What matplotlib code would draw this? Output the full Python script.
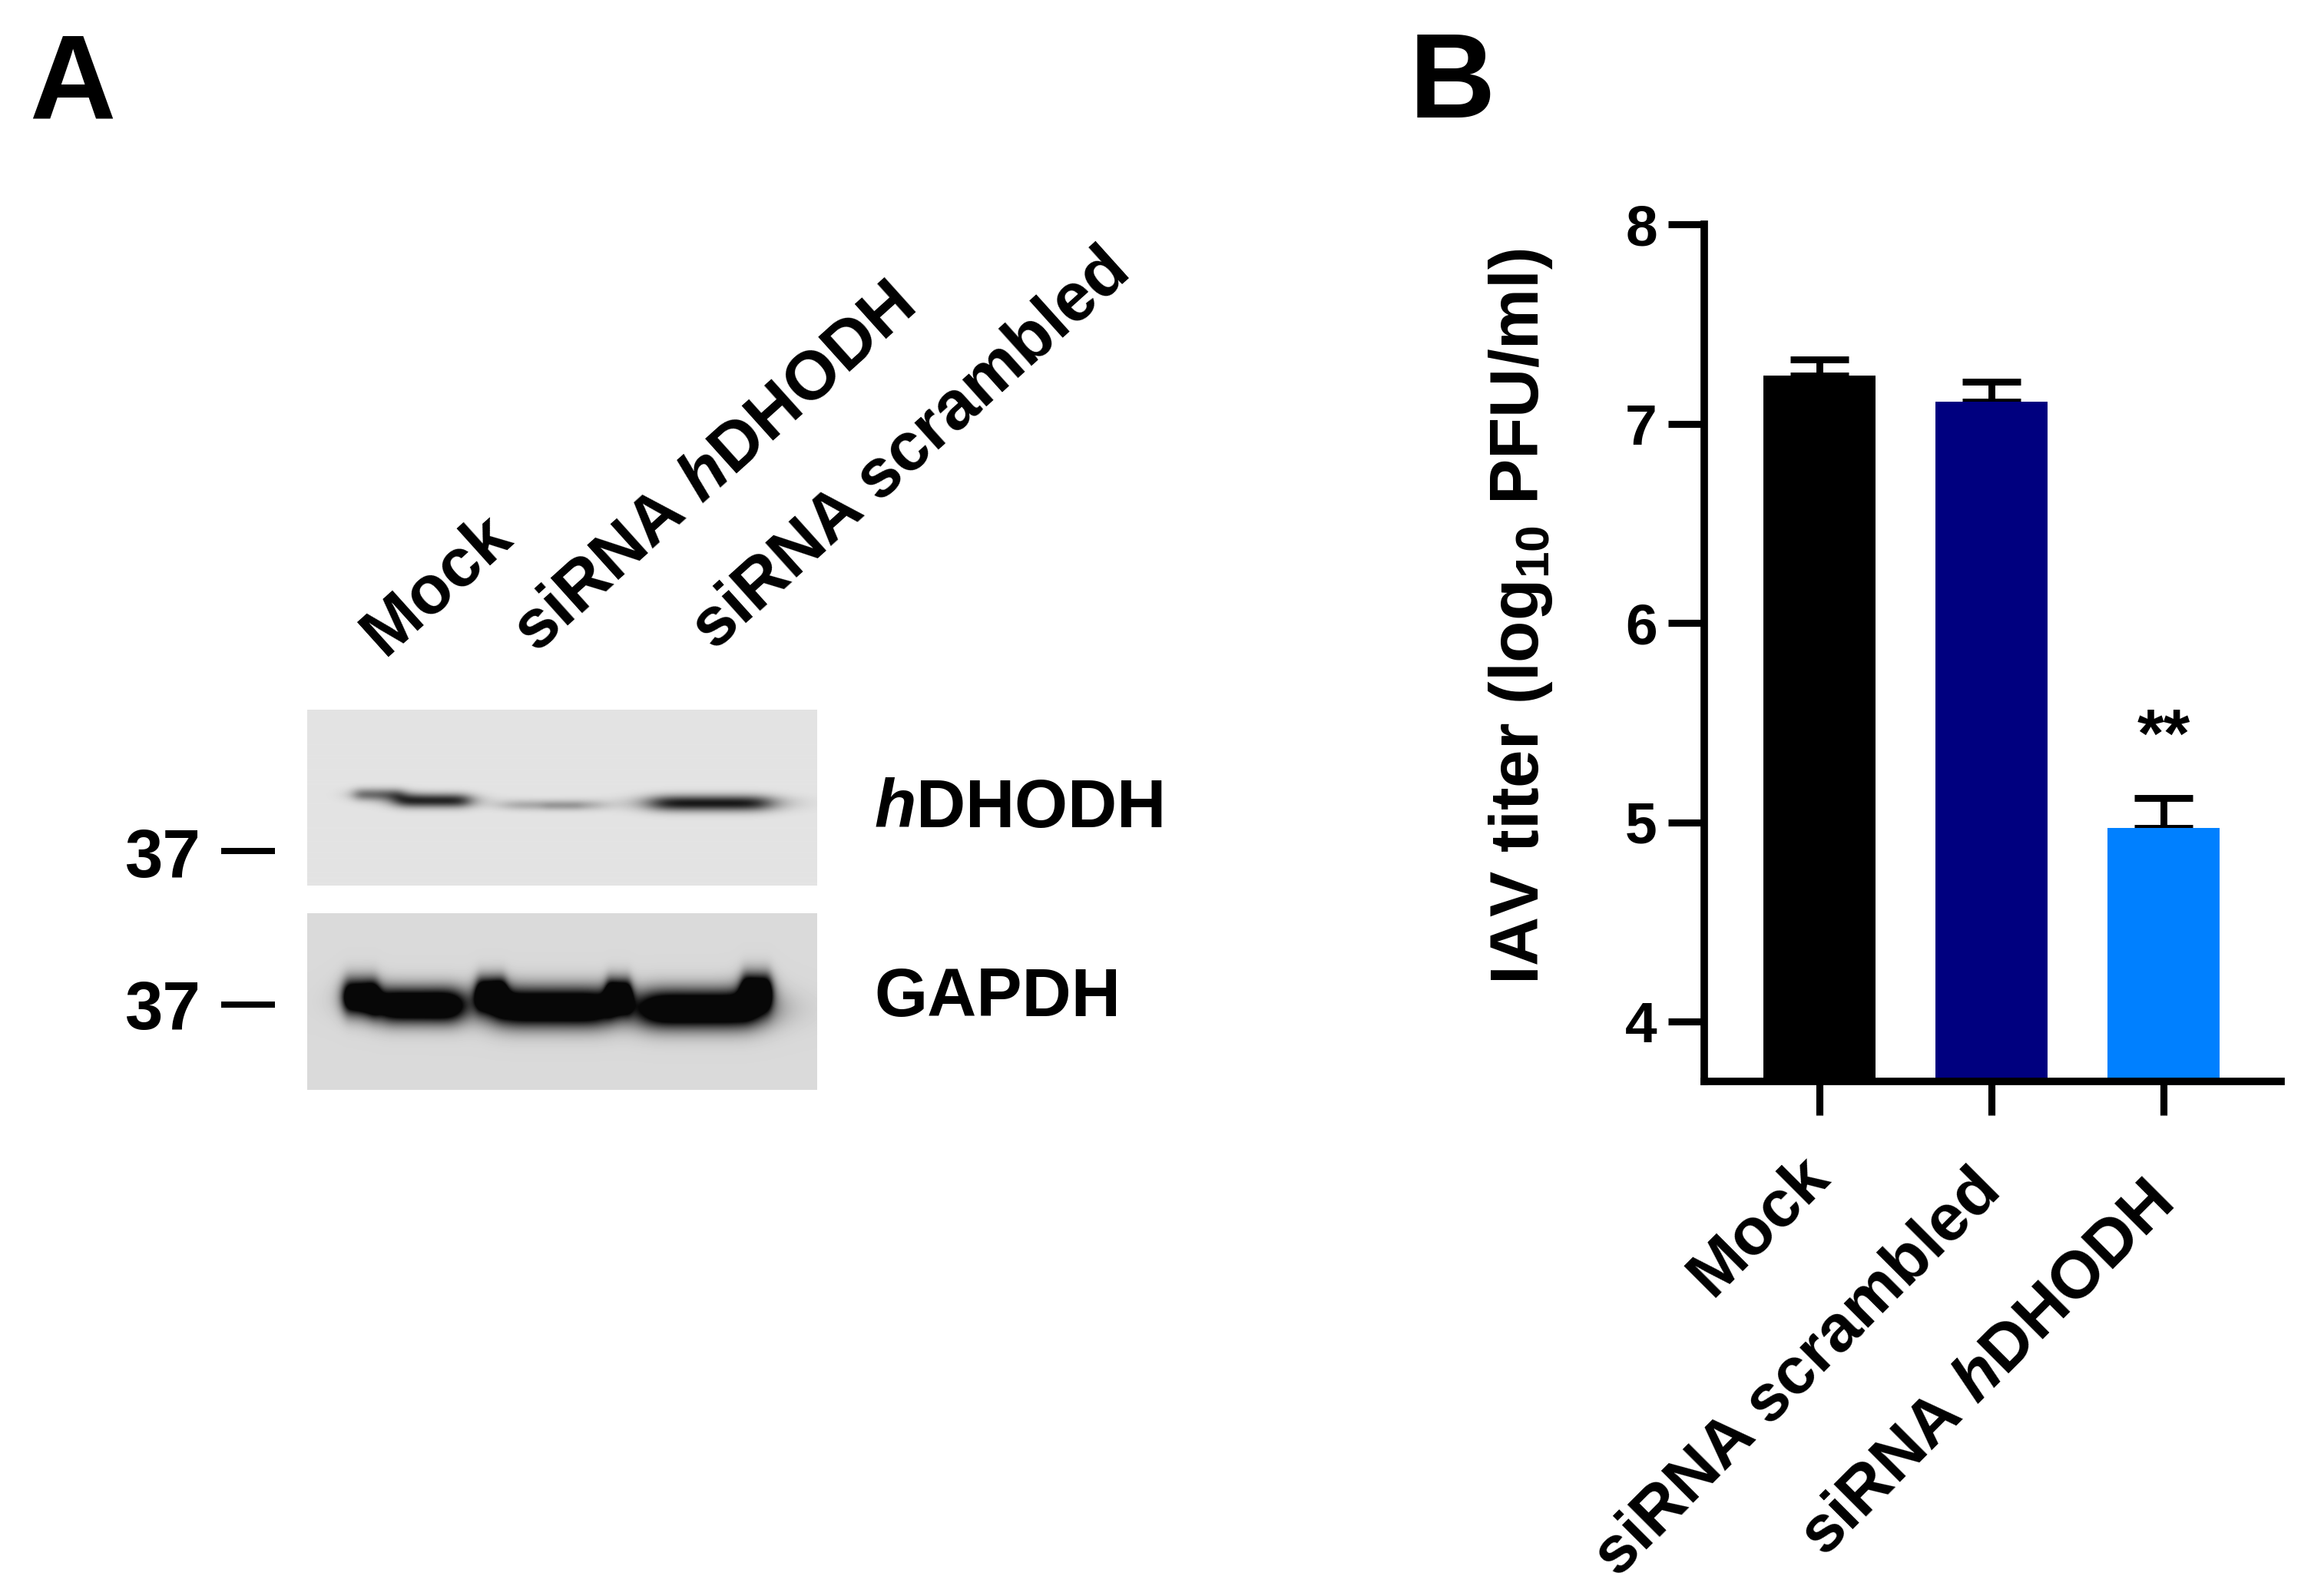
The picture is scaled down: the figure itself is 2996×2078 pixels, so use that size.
import numpy as np
import matplotlib
matplotlib.use('Agg')
from matplotlib import pyplot as plt
from matplotlib.lines import Line2D

plt.rc('font', family='Liberation Sans', weight='bold')
plt.rcParams['mathtext.fontset'] = 'custom'
plt.rcParams['mathtext.rm'] = 'Liberation Sans:bold'
plt.rcParams['mathtext.it'] = 'Liberation Sans:italic:bold'
plt.rcParams['mathtext.bf'] = 'Liberation Sans:bold'

W, H = 2996, 2078

#%% panel B data
groups = ['Mock', 'siRNA scrambled', r'siRNA $\mathit{h}$DHODH']
titer = [7.24, 7.11, 4.97]
titerErr = [0.08, 0.10, 0.15]
barColors = ['#000000', '#00007f', '#0080ff']
yTicks = [4, 5, 6, 7, 8]
sigMark = ['', '', '**']

#%% panel A data (western blot)
laneNames = ['Mock', r'siRNA $\mathit{h}$DHODH', 'siRNA scrambled']
blotNames = [r'$\mathit{h}$DHODH', 'GAPDH']
markerKDa = ['37', '37']
# bands: x centre, y centre, width, height, darkness (relative to blot strip)
hdhodhBands = [(0.14, 0.48, 0.10, 0.07, 0.45),
               (0.245, 0.515, 0.15, 0.08, 0.75),
               (0.48, 0.54, 0.20, 0.06, 0.22),
               (0.50, 0.545, 0.08, 0.05, 0.08),
               (0.79, 0.53, 0.24, 0.09, 0.80)]
gapdhBands = [(0.105, 0.47, 0.07, 0.20, 1.3),
              (0.22, 0.52, 0.17, 0.20, 1.3),
              (0.36, 0.45, 0.06, 0.18, 1.2),
              (0.48, 0.53, 0.24, 0.22, 1.3),
              (0.61, 0.46, 0.05, 0.18, 1.2),
              (0.77, 0.54, 0.24, 0.22, 1.3),
              (0.88, 0.44, 0.06, 0.20, 1.3)]
blotBg = [0.894, 0.852]


def fx(px):
    return px / W


def fy(py):
    return 1 - py / H


def makeBlot(bands, bg, nRow=230, nCol=664):
    yy, xx = np.mgrid[0:nRow, 0:nCol]
    xx = xx / nCol
    yy = yy / nRow
    img = np.full((nRow, nCol), bg)
    for xc, yc, w, h, d in bands:
        px = 1 / (1 + ((xx - xc) / (w / 2)) ** 6)
        py = np.exp(-((yy - yc) / (h / 2)) ** 2)
        img = img - d * px * py
    return np.clip(img, 0.03, 1)


fig = plt.figure(figsize=(W / 200, H / 200), dpi=200)

#%% panel A
blotBox = [(400, 924, 1064, 1153), (400, 1189, 1064, 1419)]
for (x0, y0, x1, y1), bands, bg in zip(blotBox, [hdhodhBands, gapdhBands], blotBg):
    ax = fig.add_axes([fx(x0), fy(y1), fx(x1 - x0), (y1 - y0) / H])
    ax.imshow(makeBlot(bands, bg), cmap='gray', vmin=0, vmax=1,
              aspect='auto', interpolation='bilinear')
    ax.axis('off')

laneAnchor = [(500, 855), (698, 852), (930, 848)]
for name, (x, y) in zip(laneNames, laneAnchor):
    fig.text(fx(x), fy(y), name, rotation=42, rotation_mode='anchor',
             ha='left', va='baseline', fontsize=32)

for name, y in zip(blotNames, [1077, 1323]):
    fig.text(fx(1138), fy(y), name, ha='left', va='baseline', fontsize=32)

for kda, y, yl in zip(markerKDa, [1142, 1340], [1108, 1308]):
    fig.text(fx(162), fy(y), kda, ha='left', va='baseline', fontsize=32)
    fig.add_artist(Line2D([fx(288), fx(358)], [fy(yl), fy(yl)],
                          color='black', lw=2.9, solid_capstyle='butt'))

fig.text(fx(38), fy(153), 'A', ha='left', va='baseline', fontsize=56)
fig.text(fx(1835), fy(153), 'B', ha='left', va='baseline', fontsize=56)

#%% panel B
axB = fig.add_axes([fx(2219), fy(1408), fx(2970 - 2219), (1408 - 292) / H])
xPos = np.arange(len(groups))
axB.bar(xPos, titer, width=0.65, color=barColors, zorder=2)
axB.errorbar(xPos, titer, yerr=[np.zeros(len(titer)), titerErr], fmt='none',
             ecolor='black', elinewidth=3.2, capsize=13.6, capthick=3.2, zorder=1)
for x, t, e, s in zip(xPos, titer, titerErr, sigMark):
    if s:
        axB.text(x, 5.33, s, ha='center', va='baseline', fontsize=32)

axB.set_xlim(-0.670, 2.683)
axB.set_ylim(3.70, 8)
axB.set_yticks(yTicks)
axB.set_yticklabels([str(t) for t in yTicks], fontsize=27)
axB.set_xticks(xPos)
axB.set_xticklabels([])
# rotated category labels, right end of baseline placed below each tick
labelDrop = [45.7, 52.2, 58.7]
for x, name, drop in zip(xPos, groups, labelDrop):
    axB.annotate(name, xy=(x, 0), xycoords=('data', 'axes fraction'),
                 xytext=(5.5, -drop), textcoords='offset points',
                 rotation=45, rotation_mode='anchor', ha='right', va='baseline',
                 fontsize=31, annotation_clip=False)
axB.spines['top'].set_visible(False)
axB.spines['right'].set_visible(False)
axB.spines['left'].set_linewidth(3.5)
axB.spines['bottom'].set_linewidth(3.5)
axB.tick_params(axis='y', length=17, width=3.3, pad=5)
axB.tick_params(axis='x', length=16, width=3.3)

fig.text(fx(1980), fy(803), r'IAV titer (log$_{\mathrm{10}}$ PFU/ml)', rotation=90,
         ha='center', va='center', fontsize=32)

plt.savefig('out.png', dpi=200)
